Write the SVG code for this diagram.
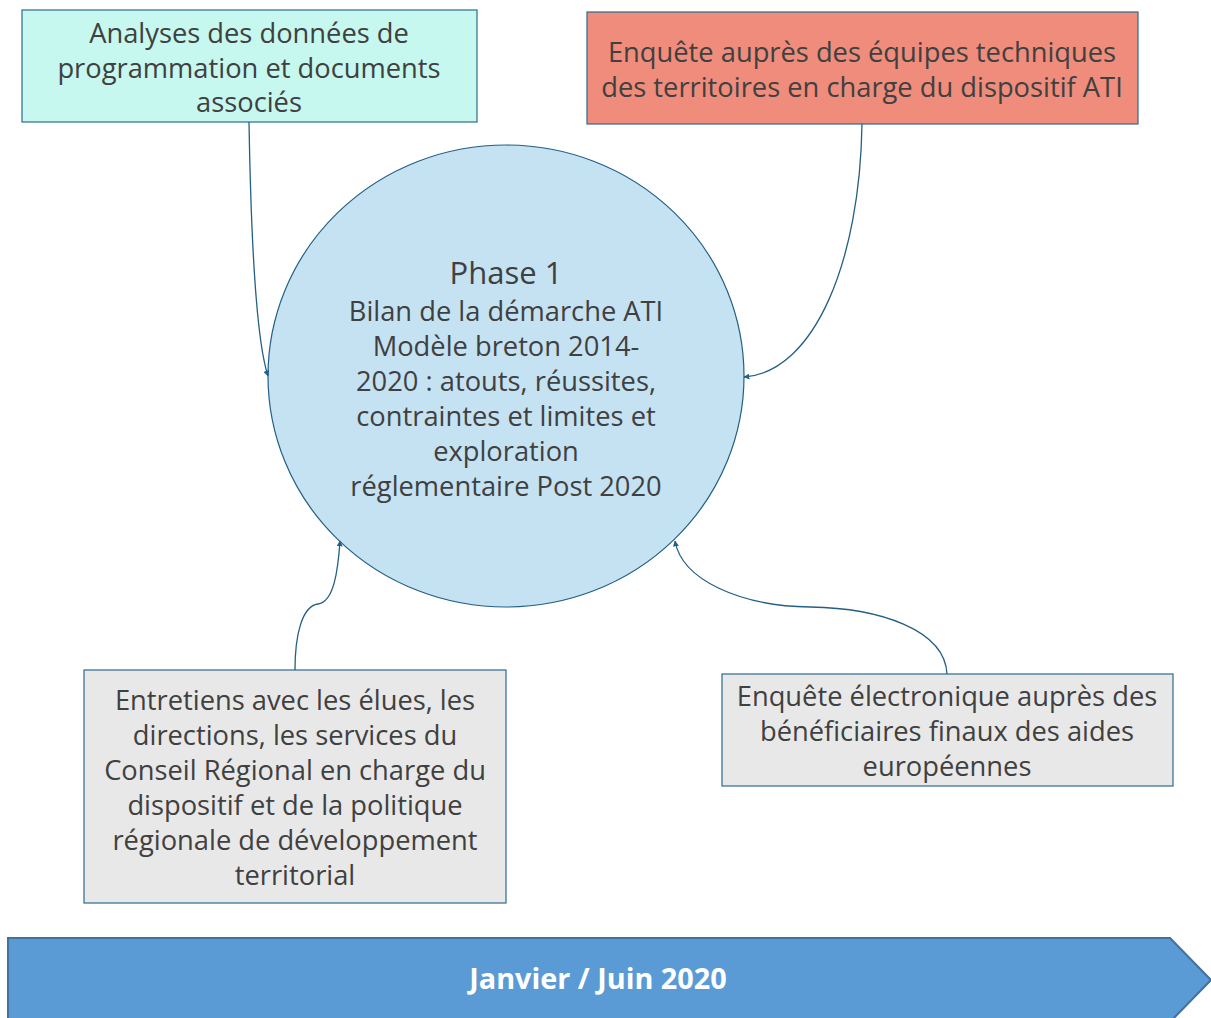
<svg xmlns="http://www.w3.org/2000/svg" width="1211" height="1018" viewBox="0 0 1211 1018">
<style>
.box{stroke:#2e6b8e;stroke-width:1.2}
.t{font-family:"Open Sans","Noto Sans","Liberation Sans",sans-serif;font-size:27.3px;fill:#404040;text-anchor:middle}
.c{fill:none;stroke:#235f85;stroke-width:1.3}
</style>
<defs>
<marker id="ah" viewBox="0 0 10 10" refX="9" refY="5" markerWidth="6" markerHeight="6" orient="auto" markerUnits="userSpaceOnUse">
<path d="M0,0 L10,5 L0,10 z" fill="#235f85"/>
</marker>
</defs>
<rect width="1211" height="1018" fill="#ffffff"/>
<g id="phase1">
<ellipse cx="506" cy="376" rx="238" ry="231" fill="#c5e2f3" stroke="#235f85" stroke-width="1.2"/>
<text class="t" x="506" y="284" style="font-size:31px">Phase 1</text>
<text class="t" x="506" y="321">Bilan de la démarche ATI</text>
<text class="t" x="506" y="356">Modèle breton 2014-</text>
<text class="t" x="506" y="391">2020 : atouts, réussites,</text>
<text class="t" x="506" y="426">contraintes et limites et</text>
<text class="t" x="506" y="461">exploration</text>
<text class="t" x="506" y="496">réglementaire Post 2020</text>
</g>
<g id="analyses">
<rect class="box" x="22" y="10" width="455" height="112" fill="#c6f8ef"/>
<text class="t" x="249" y="43">Analyses des données de</text>
<text class="t" x="249" y="78">programmation et documents</text>
<text class="t" x="249" y="112">associés</text>
</g>
<g id="enquete-equipes">
<rect class="box" x="587" y="12" width="551" height="112" fill="#ef8c7c"/>
<text class="t" x="862" y="62">Enquête auprès des équipes techniques</text>
<text class="t" x="862" y="97">des territoires en charge du dispositif ATI</text>
</g>
<g id="entretiens">
<rect class="box" x="84" y="670" width="422" height="233" fill="#e8e8e8"/>
<text class="t" x="295" y="710">Entretiens avec les élues, les</text>
<text class="t" x="295" y="745">directions, les services du</text>
<text class="t" x="295" y="780">Conseil Régional en charge du</text>
<text class="t" x="295" y="815">dispositif et de la politique</text>
<text class="t" x="295" y="850">régionale de développement</text>
<text class="t" x="295" y="885">territorial</text>
</g>
<g id="enquete-beneficiaires">
<rect class="box" x="722" y="674" width="451" height="112" fill="#e8e8e8"/>
<text class="t" x="947" y="706">Enquête électronique auprès des</text>
<text class="t" x="947" y="741">bénéficiaires finaux des aides</text>
<text class="t" x="947" y="776">européennes</text>
</g>
<g id="timeline">
<path d="M8,938 L1170,938 L1211,980 L1170,1022 L8,1022 Z" fill="#5b9bd5" stroke="#41719c" stroke-width="2"/>
<text x="598" y="989" style="font-family:'Open Sans','Noto Sans','Liberation Sans',sans-serif;font-size:28.8px;font-weight:bold;fill:#ffffff;text-anchor:middle">Janvier / Juin 2020</text>
</g>
<g id="connectors">
<path class="c" d="M249,122 C251,240 256,340 268,376" marker-end="url(#ah)"/>
<path class="c" d="M862,124 C860,260 815,372 744,377" marker-end="url(#ah)"/>
<path class="c" d="M295,670 C295,635 302,606 318,604 C334,602 338,570 340,541" marker-end="url(#ah)"/>
<path class="c" d="M947,674 C945,630 880,608 810,607 C740,606 682,580 675,541" marker-end="url(#ah)"/>
</g>
</svg>
